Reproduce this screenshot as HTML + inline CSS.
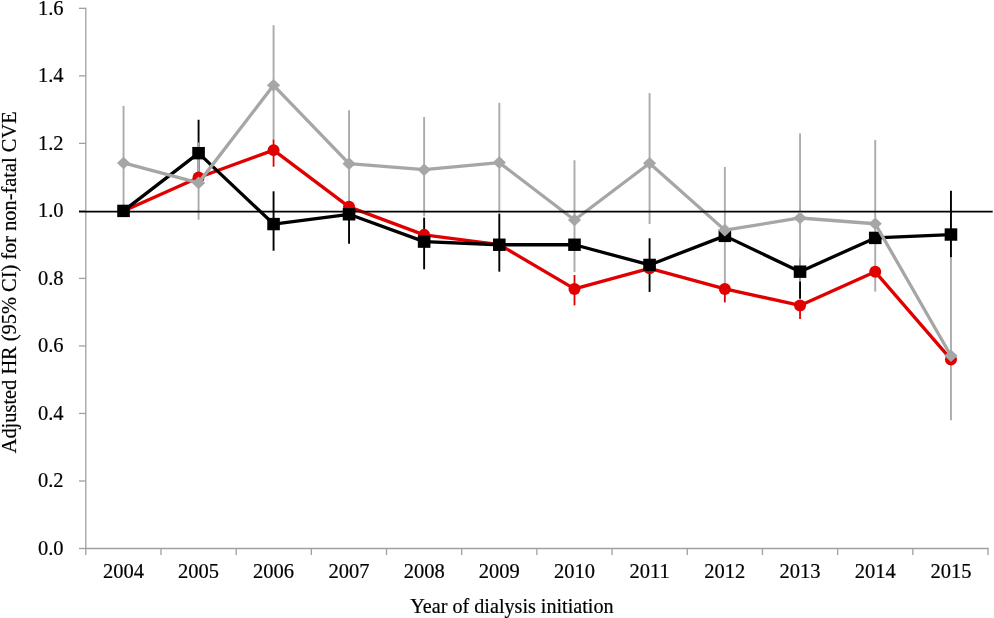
<!DOCTYPE html>
<html><head><meta charset="utf-8"><title>Adjusted HR chart</title>
<style>html,body{margin:0;padding:0;background:#fff;} body{width:994px;height:618px;overflow:hidden;} svg{display:block;}</style>
</head><body>
<svg width="994" height="618" viewBox="0 0 994 618">
<rect width="994" height="618" fill="#fff"/>
<g><line x1="85.8" y1="7.74" x2="85.8" y2="548.50" stroke="#a0a0a0" stroke-width="1.3"/><line x1="85.2" y1="548.5" x2="988.60" y2="548.5" stroke="#a0a0a0" stroke-width="1.3"/><line x1="79" y1="548.50" x2="85.8" y2="548.50" stroke="#a0a0a0" stroke-width="1.3"/><line x1="79" y1="480.98" x2="85.8" y2="480.98" stroke="#a0a0a0" stroke-width="1.3"/><line x1="79" y1="413.46" x2="85.8" y2="413.46" stroke="#a0a0a0" stroke-width="1.3"/><line x1="79" y1="345.94" x2="85.8" y2="345.94" stroke="#a0a0a0" stroke-width="1.3"/><line x1="79" y1="278.42" x2="85.8" y2="278.42" stroke="#a0a0a0" stroke-width="1.3"/><line x1="79" y1="210.90" x2="85.8" y2="210.90" stroke="#a0a0a0" stroke-width="1.3"/><line x1="79" y1="143.38" x2="85.8" y2="143.38" stroke="#a0a0a0" stroke-width="1.3"/><line x1="79" y1="75.86" x2="85.8" y2="75.86" stroke="#a0a0a0" stroke-width="1.3"/><line x1="79" y1="8.34" x2="85.8" y2="8.34" stroke="#a0a0a0" stroke-width="1.3"/><line x1="85.80" y1="548.5" x2="85.80" y2="555" stroke="#a0a0a0" stroke-width="1.3"/><line x1="160.98" y1="548.5" x2="160.98" y2="555" stroke="#a0a0a0" stroke-width="1.3"/><line x1="236.17" y1="548.5" x2="236.17" y2="555" stroke="#a0a0a0" stroke-width="1.3"/><line x1="311.35" y1="548.5" x2="311.35" y2="555" stroke="#a0a0a0" stroke-width="1.3"/><line x1="386.53" y1="548.5" x2="386.53" y2="555" stroke="#a0a0a0" stroke-width="1.3"/><line x1="461.72" y1="548.5" x2="461.72" y2="555" stroke="#a0a0a0" stroke-width="1.3"/><line x1="536.90" y1="548.5" x2="536.90" y2="555" stroke="#a0a0a0" stroke-width="1.3"/><line x1="612.08" y1="548.5" x2="612.08" y2="555" stroke="#a0a0a0" stroke-width="1.3"/><line x1="687.27" y1="548.5" x2="687.27" y2="555" stroke="#a0a0a0" stroke-width="1.3"/><line x1="762.45" y1="548.5" x2="762.45" y2="555" stroke="#a0a0a0" stroke-width="1.3"/><line x1="837.63" y1="548.5" x2="837.63" y2="555" stroke="#a0a0a0" stroke-width="1.3"/><line x1="912.82" y1="548.5" x2="912.82" y2="555" stroke="#a0a0a0" stroke-width="1.3"/><line x1="988.00" y1="548.5" x2="988.00" y2="555" stroke="#a0a0a0" stroke-width="1.3"/></g>
<g font-family="'Liberation Serif', 'Times New Roman', serif" font-size="20.5" fill="#000" stroke="#000" stroke-width="0.2"><text x="63.5" y="554.80" text-anchor="end">0.0</text><text x="63.5" y="487.28" text-anchor="end">0.2</text><text x="63.5" y="419.76" text-anchor="end">0.4</text><text x="63.5" y="352.24" text-anchor="end">0.6</text><text x="63.5" y="284.72" text-anchor="end">0.8</text><text x="63.5" y="217.20" text-anchor="end">1.0</text><text x="63.5" y="149.68" text-anchor="end">1.2</text><text x="63.5" y="82.16" text-anchor="end">1.4</text><text x="63.5" y="14.64" text-anchor="end">1.6</text><text x="123.54" y="577.8" text-anchor="middle">2004</text><text x="198.57" y="577.8" text-anchor="middle">2005</text><text x="273.56" y="577.8" text-anchor="middle">2006</text><text x="349.04" y="577.8" text-anchor="middle">2007</text><text x="424.13" y="577.8" text-anchor="middle">2008</text><text x="499.31" y="577.8" text-anchor="middle">2009</text><text x="574.49" y="577.8" text-anchor="middle">2010</text><text x="649.57" y="577.8" text-anchor="middle">2011</text><text x="724.86" y="577.8" text-anchor="middle">2012</text><text x="800.04" y="577.8" text-anchor="middle">2013</text><text x="875.23" y="577.8" text-anchor="middle">2014</text><text x="950.96" y="577.8" text-anchor="middle">2015</text><text x="410.3" y="613.4" font-size="20.15" textLength="203.3" lengthAdjust="spacingAndGlyphs">Year of dialysis initiation</text><text transform="translate(15.6,453.3) rotate(-90)" font-size="20.4" textLength="341.9" lengthAdjust="spacingAndGlyphs">Adjusted HR (95% CI) for non-fatal CVE</text></g>
<g><line x1="198.57" y1="119.75" x2="198.57" y2="177.14" stroke="#000" stroke-width="1.9"/>
<line x1="273.56" y1="191.32" x2="273.56" y2="250.74" stroke="#000" stroke-width="1.9"/>
<line x1="349.04" y1="210.90" x2="349.04" y2="243.65" stroke="#000" stroke-width="1.9"/>
<line x1="424.13" y1="217.65" x2="424.13" y2="269.30" stroke="#000" stroke-width="1.9"/>
<line x1="499.31" y1="213.60" x2="499.31" y2="271.67" stroke="#000" stroke-width="1.9"/>
<line x1="649.57" y1="238.25" x2="649.57" y2="291.92" stroke="#000" stroke-width="1.9"/>
<line x1="800.04" y1="258.16" x2="800.04" y2="298.68" stroke="#000" stroke-width="1.9"/>
<line x1="950.96" y1="190.64" x2="950.96" y2="257.49" stroke="#000" stroke-width="1.9"/></g>
<g><line x1="123.54" y1="105.91" x2="123.54" y2="210.90" stroke="#ababab" stroke-width="1.9"/>
<line x1="198.57" y1="142.37" x2="198.57" y2="219.68" stroke="#ababab" stroke-width="1.9"/>
<line x1="273.56" y1="25.22" x2="273.56" y2="140.00" stroke="#ababab" stroke-width="1.9"/>
<line x1="349.04" y1="110.30" x2="349.04" y2="210.90" stroke="#ababab" stroke-width="1.9"/>
<line x1="424.13" y1="117.05" x2="424.13" y2="216.30" stroke="#ababab" stroke-width="1.9"/>
<line x1="499.31" y1="102.87" x2="499.31" y2="211.58" stroke="#ababab" stroke-width="1.9"/>
<line x1="574.49" y1="160.26" x2="574.49" y2="272.17" stroke="#ababab" stroke-width="1.9"/>
<line x1="649.57" y1="93.08" x2="649.57" y2="224.07" stroke="#ababab" stroke-width="1.9"/>
<line x1="724.86" y1="167.01" x2="724.86" y2="288.55" stroke="#ababab" stroke-width="1.9"/>
<line x1="800.04" y1="133.59" x2="800.04" y2="281.46" stroke="#ababab" stroke-width="1.9"/>
<line x1="875.23" y1="140.00" x2="875.23" y2="291.59" stroke="#ababab" stroke-width="1.9"/>
<line x1="950.96" y1="257.49" x2="950.96" y2="420.21" stroke="#ababab" stroke-width="1.9"/></g>
<g><line x1="273.56" y1="139.67" x2="273.56" y2="166.67" stroke="#e00000" stroke-width="1.8"/>
<line x1="574.49" y1="275.04" x2="574.49" y2="305.43" stroke="#e00000" stroke-width="1.8"/>
<line x1="724.86" y1="288.89" x2="724.86" y2="302.39" stroke="#e00000" stroke-width="1.8"/>
<line x1="800.04" y1="305.43" x2="800.04" y2="318.93" stroke="#e00000" stroke-width="1.8"/></g>
<polyline points="123.54,210.90 198.57,177.48 273.56,150.13 349.04,206.85 424.13,234.87 499.31,244.66 574.49,288.89 649.57,268.29 724.86,288.89 800.04,305.43 875.23,271.84 950.96,359.44" fill="none" stroke="#e00000" stroke-width="3.3" stroke-linejoin="round"/>
<g><circle cx="123.54" cy="210.90" r="6" fill="#e00000"/>
<circle cx="198.57" cy="177.48" r="6" fill="#e00000"/>
<circle cx="273.56" cy="150.13" r="6" fill="#e00000"/>
<circle cx="349.04" cy="206.85" r="6" fill="#e00000"/>
<circle cx="424.13" cy="234.87" r="6" fill="#e00000"/>
<circle cx="499.31" cy="244.66" r="6" fill="#e00000"/>
<circle cx="574.49" cy="288.89" r="6" fill="#e00000"/>
<circle cx="649.57" cy="268.29" r="6" fill="#e00000"/>
<circle cx="724.86" cy="288.89" r="6" fill="#e00000"/>
<circle cx="800.04" cy="305.43" r="6" fill="#e00000"/>
<circle cx="875.23" cy="271.84" r="6" fill="#e00000"/>
<circle cx="950.96" cy="359.44" r="6" fill="#e00000"/></g>
<polyline points="123.54,210.90 198.57,153.17 273.56,224.07 349.04,214.28 424.13,241.62 499.31,244.73 574.49,244.73 649.57,264.92 724.86,235.88 800.04,271.67 875.23,237.91 950.96,234.53" fill="none" stroke="#000" stroke-width="3.3" stroke-linejoin="round"/>
<g><rect x="117.24" y="204.70" width="12.6" height="12.4" fill="#000"/>
<rect x="192.27" y="146.97" width="12.6" height="12.4" fill="#000"/>
<rect x="267.26" y="217.87" width="12.6" height="12.4" fill="#000"/>
<rect x="342.74" y="208.08" width="12.6" height="12.4" fill="#000"/>
<rect x="417.83" y="235.42" width="12.6" height="12.4" fill="#000"/>
<rect x="493.01" y="238.53" width="12.6" height="12.4" fill="#000"/>
<rect x="568.19" y="238.53" width="12.6" height="12.4" fill="#000"/>
<rect x="643.27" y="258.72" width="12.6" height="12.4" fill="#000"/>
<rect x="718.56" y="229.68" width="12.6" height="12.4" fill="#000"/>
<rect x="793.74" y="265.47" width="12.6" height="12.4" fill="#000"/>
<rect x="868.93" y="231.71" width="12.6" height="12.4" fill="#000"/>
<rect x="944.66" y="228.33" width="12.6" height="12.4" fill="#000"/></g>
<polyline points="123.54,162.96 198.57,182.88 273.56,85.31 349.04,163.64 424.13,169.71 499.31,162.62 574.49,220.02 649.57,163.30 724.86,230.14 800.04,217.99 875.23,223.73 950.96,355.73" fill="none" stroke="#a6a6a6" stroke-width="3.3" stroke-linejoin="round"/>
<line x1="79" y1="211.60" x2="992.7" y2="211.60" stroke="#000" stroke-width="1.8"/>
<g><polygon points="123.54,156.66 130.14,162.96 123.54,169.26 116.94,162.96" fill="#a6a6a6"/>
<polygon points="198.57,176.58 205.17,182.88 198.57,189.18 191.97,182.88" fill="#a6a6a6"/>
<polygon points="273.56,79.01 280.16,85.31 273.56,91.61 266.96,85.31" fill="#a6a6a6"/>
<polygon points="349.04,157.34 355.64,163.64 349.04,169.94 342.44,163.64" fill="#a6a6a6"/>
<polygon points="424.13,163.41 430.73,169.71 424.13,176.01 417.53,169.71" fill="#a6a6a6"/>
<polygon points="499.31,156.32 505.91,162.62 499.31,168.92 492.71,162.62" fill="#a6a6a6"/>
<polygon points="574.49,213.72 581.09,220.02 574.49,226.32 567.89,220.02" fill="#a6a6a6"/>
<polygon points="649.57,157.00 656.17,163.30 649.57,169.60 642.97,163.30" fill="#a6a6a6"/>
<polygon points="724.86,223.84 731.46,230.14 724.86,236.44 718.26,230.14" fill="#a6a6a6"/>
<polygon points="800.04,211.69 806.64,217.99 800.04,224.29 793.44,217.99" fill="#a6a6a6"/>
<polygon points="875.23,217.43 881.83,223.73 875.23,230.03 868.62,223.73" fill="#a6a6a6"/>
<polygon points="950.96,349.43 957.56,355.73 950.96,362.03 944.36,355.73" fill="#a6a6a6"/></g>
</svg>
</body></html>
